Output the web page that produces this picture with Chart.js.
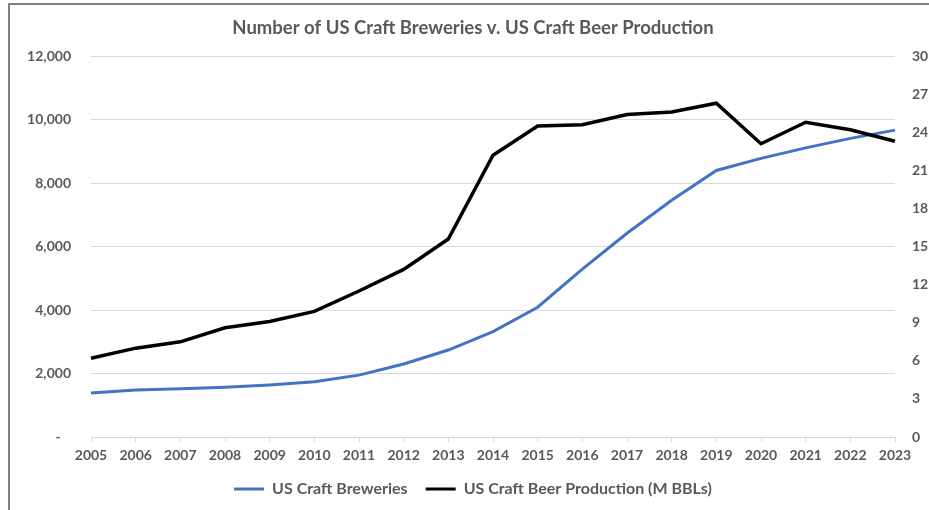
<!DOCTYPE html>
<html>
<head>
<meta charset="utf-8">
<script src="https://cdn.jsdelivr.net/npm/chart.js@4/dist/chart.umd.min.js"></script>
<style>
  body { margin: 0; background: #fff; }
  #wrap { position: relative; width: 929px; height: 510px; }
  #frame {
    position: absolute; left: 8px; top: 3px; right: 0; bottom: 0;
    border-left: 2px solid #808080; border-top: 2px solid #808080;
  }
  canvas { position: absolute; left: 0; top: 0; }
</style>
</head>
<body>
<div id="wrap">
  <div id="frame"></div>
  <canvas id="graficoCerveja" width="929" height="510"></canvas>
</div>
<script>
// ---------------- DADOS ----------------
const anos = ["2005", "2006", "2007", "2008", "2009", "2010", "2011", "2012", "2013", "2014",
  "2015", "2016", "2017", "2018", "2019", "2020", "2021", "2022", "2023"];

// numero de cervejarias artesanais (eixo esquerdo)
const cervejarias = [1390, 1480, 1520, 1570, 1640, 1740, 1950, 2300, 2740, 3320,
  4090, 5290, 6420, 7460, 8400, 8780, 9110, 9410, 9670];

// producao em milhoes de barris (eixo direito)
const producao = [6.2, 7.0, 7.5, 8.6, 9.1, 9.9, 11.5, 13.2, 15.6, 22.2,
  24.5, 24.6, 25.4, 25.6, 26.3, 23.1, 24.8, 24.2, 23.3];

const ticksEsquerda = [0, 2000, 4000, 6000, 8000, 10000, 12000];
const ticksDireita = [0, 3, 6, 9, 12, 15, 18, 21, 24, 27, 30];

const cinza = "#595959";
const grelha = "#d9d9d9";

Chart.defaults.font.family = 'Lato, "Open Sans", sans-serif';
Chart.defaults.color = cinza;

new Chart(
  document.getElementById("graficoCerveja"),
  {
    type: 'line',

    data: {
      labels: anos,
      datasets: [
        {
          label: 'US Craft Breweries',
          data: cervejarias,
          yAxisID: 'y',
          borderColor: '#4472C4',
          backgroundColor: '#4472C4',
          borderWidth: 3,
          pointRadius: 0,
          tension: 0,
          order: 1
        },
        {
          label: 'US Craft Beer Production (M BBLs)',
          data: producao,
          yAxisID: 'y1',
          borderColor: '#000000',
          backgroundColor: '#000000',
          borderWidth: 3.5,
          pointRadius: 0,
          tension: 0,
          order: 0
        }
      ]
    },

    options: {
      responsive: false,
      animation: false,

      layout: {
        padding: { left: 17, right: 0, top: 0, bottom: 3 }
      },

      scales: {
        x: {
          afterFit: s => { s.height = 26; },
          grid: { drawOnChartArea: false, color: grelha, tickLength: 5 },
          border: { color: grelha },
          ticks: {
            color: cinza,
            font: { size: 14, weight: 'bold' },
            padding: 5,
            maxRotation: 0,
            autoSkip: false
          }
        },

        y: {
          position: 'left',
          min: 0,
          max: 12000,
          afterBuildTicks: s => { s.ticks = ticksEsquerda.map(v => ({ value: v })); },
          afterFit: s => { s.width = 74; },
          grid: { color: grelha, drawTicks: false },
          border: { display: false },
          ticks: {
            color: cinza,
            padding: 20,
            font: { size: 14, weight: 'bold' },
            callback: v => v === 0 ? '-   ' : v.toLocaleString('en-US')
          }
        },

        y1: {
          position: 'right',
          min: 0,
          max: 30,
          afterBuildTicks: s => { s.ticks = ticksDireita.map(v => ({ value: v })); },
          afterFit: s => { s.width = 34; },
          grid: { drawOnChartArea: false, drawTicks: false },
          border: { display: false },
          ticks: {
            color: cinza,
            padding: 17,
            font: { size: 14, weight: 'bold' }
          }
        }
      },

      plugins: {
        title: {
          display: true,
          text: 'Number of US Craft Breweries v. US Craft Beer Production',
          color: cinza,
          font: { size: 18.5, weight: 'bold' },
          padding: { top: 17, bottom: 17 }
        },

        legend: {
          position: 'bottom',
          labels: {
            color: cinza,
            boxWidth: 30,
            boxHeight: 3,
            padding: 18,
            font: { size: 16, weight: 'bold' },
            sort: (a, b) => a.datasetIndex - b.datasetIndex,
            generateLabels: chart =>
              Chart.defaults.plugins.legend.labels.generateLabels(chart)
                .map(l => ({ ...l, lineWidth: 0 }))
          }
        },

        tooltip: { enabled: false }
      }
    }
  }
);
</script>
</body>
</html>
